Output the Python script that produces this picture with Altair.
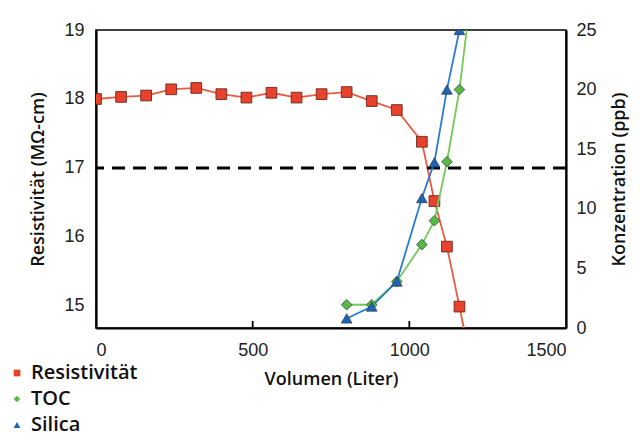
import altair as alt
import pandas as pd

# ---- data ----
res_volume = [0, 80, 160, 240, 320, 400, 480, 560, 640, 720, 800, 880, 960, 1040, 1080, 1120, 1160, 1200]
res_value = [18.0, 18.03, 18.05, 18.14, 18.16, 18.07, 18.02, 18.09, 18.02, 18.07, 18.1, 17.97, 17.84, 17.38, 16.52, 15.86, 14.99, 14.1]

toc_volume = [800, 880, 960, 1040, 1080, 1120, 1160, 1200]
toc_value = [1.95, 1.95, 3.9, 7.0, 9.0, 13.95, 20.0, 28.7]

sil_volume = [800, 880, 960, 1040, 1080, 1120, 1160]
sil_value = [0.8, 1.8, 3.9, 10.9, 13.9, 20.0, 25.0]

limit_value = [17]
x_tick_values = [0, 500, 1000, 1500]
left_tick_values = [15, 16, 17, 18, 19]
right_tick_values = [0, 5, 10, 15, 20, 25]
series_names = ["Resistivität", "TOC", "Silica"]

marker_fill = ["#e8412c", "#58b844", "#1c64b8"]
line_color = ["#ec5a3f", "#74c957", "#2a7bd0"]
marker_shape = ["square", "diamond", "triangle-up"]

res_df = pd.DataFrame({"vol": res_volume, "val": res_value, "series": "Resistivität"})
toc_df = pd.DataFrame({"vol": toc_volume, "val": toc_value, "series": "TOC"})
sil_df = pd.DataFrame({"vol": sil_volume, "val": sil_value, "series": "Silica"})
conc_df = pd.concat([toc_df, sil_df])
limit_df = pd.DataFrame({"val": limit_value})
xtick_df = pd.DataFrame({"vol": [500, 1000]})

TICK_FONT = "Liberation Sans"
TITLE_FONT = "Open Sans"

x_scale = alt.Scale(domain=[0, 1500], nice=False)
x_enc = alt.X("vol:Q", scale=x_scale,
              axis=alt.Axis(values=x_tick_values, title="Volumen (Liter)", tickSize=0, format="d",
                            labelPadding=13, titlePadding=11, grid=False))

color_scale = alt.Scale(domain=series_names, range=marker_fill)
shape_scale = alt.Scale(domain=series_names, range=marker_shape)

left_scale = alt.Scale(domain=[14.68, 19], nice=False, zero=False)
left_y = alt.Y("val:Q", scale=left_scale,
               axis=alt.Axis(values=left_tick_values, title="Resistivität (MΩ-cm)", orient="left",
                             format="d", tickSize=0, labelPadding=12, titlePadding=16, grid=False))

legend = alt.Legend(title=None, orient="none", legendX=-89, legendY=333, direction="vertical",
                    labelFont=TITLE_FONT, labelFontSize=20, labelFontWeight=600, labelColor="#111",
                    symbolSize=45, symbolStrokeWidth=0, rowPadding=6, labelOffset=4)

res_line = alt.Chart(res_df).mark_line(strokeWidth=1.8, clip=True, color=line_color[0]).encode(
    x=x_enc, y=left_y,
)
res_pts = alt.Chart(res_df).mark_point(filled=True, size=115, stroke="#6a2a20", strokeWidth=0.9,
                                       opacity=1, clip=True).encode(
    x=x_enc, y=left_y,
    color=alt.Color("series:N", scale=color_scale, legend=legend),
    shape=alt.Shape("series:N", scale=shape_scale, legend=legend),
)
limit_rule = alt.Chart(limit_df).mark_rule(color="black", strokeWidth=3, strokeDash=[13, 8]).encode(
    y=alt.Y("val:Q", scale=left_scale)
)
xticks = alt.Chart(xtick_df).mark_rule(color="black", strokeWidth=1.8).encode(
    x=alt.X("vol:Q", scale=x_scale),
    y=alt.value(298), y2=alt.value(291),
)

left_layer = alt.layer(res_line, res_pts, limit_rule, xticks)

right_scale = alt.Scale(domain=[0, 25], nice=False)
right_y = alt.Y("val:Q", scale=right_scale,
                axis=alt.Axis(values=right_tick_values, title="Konzentration (ppb)", orient="right",
                              tickSize=0, labelPadding=10, titlePadding=32, titleAngle=270,
                              grid=False))

toc_line = alt.Chart(toc_df).mark_line(strokeWidth=1.8, clip=True, color=line_color[1]).encode(
    x=x_enc, y=right_y,
)
sil_line = alt.Chart(sil_df).mark_line(strokeWidth=1.8, clip=True, color=line_color[2]).encode(
    x=x_enc, y=right_y,
)
conc_pts = alt.Chart(conc_df).mark_point(filled=True, size=115, stroke="#2a3a40", strokeWidth=0.7,
                                         opacity=1, clip=True).encode(
    x=x_enc, y=right_y,
    color=alt.Color("series:N", scale=color_scale, legend=legend),
    shape=alt.Shape("series:N", scale=shape_scale, legend=legend),
)
right_layer = alt.layer(toc_line, sil_line, conc_pts)

chart = alt.layer(left_layer, right_layer).resolve_scale(
    y="independent"
).properties(
    width=470, height=298,
    autosize=alt.AutoSizeParams(type="none"),
    padding={"left": 88, "top": 22, "right": 66, "bottom": 111},
).configure_view(
    stroke="black", strokeWidth=1.5
).configure_axis(
    domainColor="black", domainWidth=2.2,
    labelFont=TICK_FONT, labelFontSize=18, labelColor="#222",
    titleFont=TITLE_FONT, titleFontSize=18, titleFontWeight=600, titleColor="#111",
)

chart.save("out.html", embed_options={"renderer": "svg", "actions": False})
